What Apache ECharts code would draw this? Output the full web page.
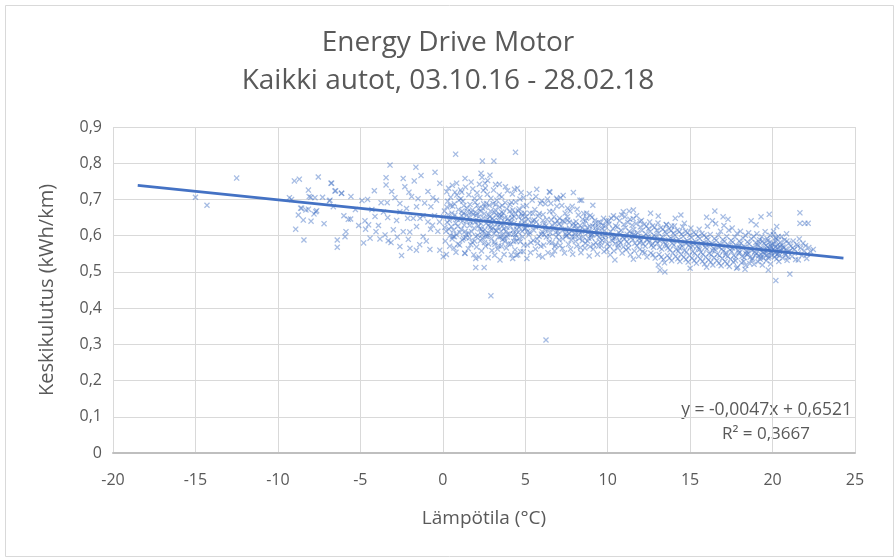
<!DOCTYPE html>
<html><head><meta charset="utf-8">
<script src="https://cdn.jsdelivr.net/npm/echarts@6/dist/echarts.min.js"></script>
<style>html,body{margin:0;padding:0;background:#fff}#c{width:896px;height:558px}</style>
</head><body><div id="c"></div>
<script>
const titleLines = ['Energy Drive Motor', 'Kaikki autot, 03.10.16 - 28.02.18'];
const xName = 'Lämpötila (°C)';
const yName = 'Keskikulutus (kWh/km)';
const xTicks = [-20, 25, 5];
const yTicks = [0, 0.9, 0.1];
const trendText = ['y = -0,0047x + 0,6521', 'R² = 0,3667'];
const trendLine = [[-18.5, 0.739], [24.3, 0.538]];

const coldPoints = [[-15.0,0.706],[-14.3,0.684],[-12.5,0.759],[-9.0,0.751],[-8.7,0.756],[-7.55,0.762],[-6.74,0.745],[-8.15,0.726],[-9.17,0.700],[-8.0,0.706],[-7.29,0.706],[-6.54,0.723],[-6.13,0.717],[-6.88,0.696],[-8.62,0.676],[-8.3,0.671],[-7.65,0.669],[-7.81,0.660],[-8.76,0.657],[-8.46,0.643],[-7.99,0.640],[-8.92,0.618],[-8.42,0.588],[-6.4,0.588],[-6.4,0.568],[-5.93,0.597],[-5.73,0.645],[-6.64,0.680],[-8.56,0.676],[-8.15,0.673],[-7.7,0.666],[-8.1,0.708],[-7.75,0.705],[-6.84,0.698],[-6.15,0.717],[-6.5,0.724],[-6.78,0.745],[-5.57,0.708],[-5.87,0.611],[-5.59,0.646],[-9.3,0.705],[-7.2,0.633],[-5.3,0.672],[-6.0,0.655],[-5.1,0.628]];

const freezePoints = [[-4.9,0.697],[-4.56,0.700],[-4.15,0.724],[-3.44,0.760],[-3.44,0.740],[-3.2,0.795],[-1.63,0.789],[-1.32,0.766],[-0.47,0.775],[-3.74,0.691],[-3.37,0.691],[-2.6,0.689],[-2.05,0.720],[-1.89,0.708],[-1.73,0.751],[-1.59,0.680],[-2.6,0.666],[-2.13,0.648],[-1.79,0.648],[-1.38,0.648],[-3.34,0.650],[-4.11,0.653],[-4.72,0.641],[-4.68,0.618],[-4.05,0.611],[-4.41,0.593],[-3.81,0.591],[-3.31,0.586],[-3.14,0.581],[-2.76,0.596],[-2.6,0.570],[-1.99,0.565],[-2.09,0.590],[-3.0,0.616],[-2.4,0.611],[-1.59,0.625],[-1.19,0.598],[-0.74,0.618],[-0.62,0.629],[-0.78,0.562],[-0.18,0.560],[-0.72,0.680],[-0.38,0.698],[-0.18,0.745],[-4.3,0.672],[-3.9,0.628],[-3.6,0.665],[-2.9,0.705],[-2.3,0.735],[-2.8,0.642],[-2.2,0.675],[-1.5,0.702],[-1.1,0.690],[-0.9,0.722],[-0.5,0.655],[-0.3,0.612],[-1.0,0.585],[-1.6,0.560],[-2.5,0.545],[-4.8,0.580],[-3.5,0.602],[-1.2,0.655],[-0.6,0.705],[-0.2,0.638],[-4.5,0.630],[-2.0,0.610],[-1.4,0.575],[-0.9,0.638],[-3.1,0.722],[-2.4,0.758]];

const coolPoints = [[0.78,0.825],[4.41,0.830],[2.4,0.806],[3.1,0.806],[2.32,0.772],[2.86,0.767],[1.35,0.758],[3.43,0.742],[0.84,0.745],[0.24,0.721],[0.74,0.720],[1.15,0.720],[4.52,0.731],[2.0,0.537],[2.0,0.512],[2.51,0.512],[0.03,0.542],[1.35,0.551],[3.47,0.533],[4.24,0.537],[4.88,0.556],[2.92,0.434],
[0.1,0.668],[0.2,0.612],[0.3,0.695],[0.4,0.642],[0.15,0.585],[0.35,0.731],[0.45,0.601],[0.05,0.652],[0.25,0.679],[0.42,0.571],[0.12,0.623],[0.33,0.658],[0.48,0.706],[0.22,0.548],[0.38,0.618],
[0.55,0.662],[0.62,0.598],[0.7,0.688],[0.78,0.634],[0.85,0.712],[0.92,0.577],[0.58,0.739],[0.66,0.615],[0.74,0.657],[0.82,0.603],[0.95,0.672],[0.52,0.625],[0.88,0.645],[0.68,0.566],[0.98,0.698],[0.6,0.681],[0.8,0.554],
[1.05,0.645],[1.1,0.702],[1.18,0.588],[1.25,0.661],[1.3,0.629],[1.38,0.734],[1.42,0.604],[1.48,0.676],[1.02,0.574],[1.12,0.618],[1.22,0.695],[1.33,0.552],[1.45,0.641],[1.08,0.726],[1.28,0.683],[1.4,0.595],[1.15,0.655],[1.35,0.612],
[1.52,0.667],[1.58,0.713],[1.62,0.594],[1.68,0.638],[1.72,0.748],[1.78,0.582],[1.85,0.659],[1.9,0.621],[1.96,0.692],[1.55,0.564],[1.65,0.686],[1.75,0.611],[1.82,0.729],[1.88,0.547],[1.98,0.638],[1.6,0.652],[1.7,0.575],[1.92,0.703],[1.8,0.671],
[2.02,0.656],[2.08,0.718],[2.12,0.601],[2.18,0.674],[2.22,0.742],[2.28,0.586],[2.32,0.633],[2.38,0.761],[2.42,0.612],[2.48,0.688],[2.05,0.569],[2.15,0.627],[2.25,0.705],[2.35,0.558],[2.45,0.649],[2.1,0.684],[2.2,0.541],[2.3,0.667],[2.4,0.593],[2.46,0.725],[2.14,0.639],[2.34,0.618],
[2.52,0.661],[2.58,0.731],[2.62,0.598],[2.68,0.645],[2.72,0.752],[2.78,0.577],[2.82,0.684],[2.88,0.623],[2.92,0.703],[2.98,0.559],[2.55,0.616],[2.65,0.689],[2.75,0.539],[2.85,0.652],[2.95,0.635],[2.6,0.571],[2.7,0.714],[2.8,0.606],[2.9,0.668],[2.56,0.745],[2.76,0.629],[2.96,0.592],
[3.02,0.648],[3.08,0.726],[3.12,0.582],[3.18,0.671],[3.22,0.614],[3.28,0.698],[3.32,0.563],[3.38,0.641],[3.42,0.712],[3.48,0.597],[3.05,0.689],[3.15,0.546],[3.25,0.657],[3.35,0.624],[3.45,0.679],[3.1,0.605],[3.2,0.741],[3.3,0.633],[3.4,0.572],[3.46,0.651],[3.14,0.664],
[3.52,0.633],[3.58,0.707],[3.62,0.589],[3.68,0.662],[3.72,0.548],[3.78,0.691],[3.82,0.612],[3.88,0.674],[3.92,0.724],[3.98,0.578],[3.55,0.654],[3.65,0.601],[3.75,0.638],[3.85,0.566],[3.95,0.647],[3.6,0.683],[3.7,0.619],[3.8,0.735],[3.9,0.596],[3.56,0.571],
[4.02,0.641],[4.08,0.686],[4.12,0.577],[4.18,0.659],[4.22,0.715],[4.28,0.604],[4.32,0.634],[4.38,0.561],[4.42,0.693],[4.48,0.618],[4.05,0.605],[4.15,0.547],[4.25,0.671],[4.35,0.728],[4.45,0.585],[4.1,0.626],[4.2,0.649],[4.3,0.584],[4.4,0.662],[4.46,0.546],
[4.52,0.628],[4.58,0.668],[4.62,0.592],[4.68,0.701],[4.72,0.556],[4.78,0.643],[4.82,0.612],[4.88,0.681],[4.92,0.574],[4.98,0.639],[4.55,0.547],[4.65,0.623],[4.75,0.719],[4.85,0.597],[4.95,0.662],[4.6,0.651],[4.7,0.583],[4.8,0.632],[4.9,0.705]];

const mildPoints = [[6.26,0.312],[6.46,0.721],[7.92,0.719],[8.32,0.698],[6.95,0.700],[6.0,0.696],[7.57,0.676],[6.8,0.570],[8.93,0.570],[6.5,0.720],[6.9,0.703],[8.72,0.662],[8.42,0.698],[5.7,0.728],[7.3,0.711],[9.1,0.684],
[5.02,0.621],[5.08,0.683],[5.12,0.574],[5.18,0.645],[5.22,0.602],[5.28,0.662],[5.32,0.553],[5.38,0.634],[5.42,0.698],[5.48,0.587],[5.05,0.652],[5.15,0.612],[5.25,0.716],[5.35,0.581],[5.45,0.641],[5.1,0.537],
[5.52,0.615],[5.58,0.672],[5.62,0.563],[5.68,0.638],[5.72,0.591],[5.78,0.654],[5.82,0.545],[5.88,0.627],[5.92,0.689],[5.98,0.604],[5.55,0.643],[5.65,0.708],[5.75,0.579],[5.85,0.661],[5.95,0.571],
[6.02,0.611],[6.08,0.658],[6.12,0.574],[6.18,0.632],[6.22,0.688],[6.28,0.596],[6.32,0.645],[6.38,0.553],[6.42,0.619],[6.48,0.667],[6.05,0.541],[6.15,0.603],[6.25,0.627],[6.35,0.701],[6.45,0.582],
[6.52,0.608],[6.58,0.643],[6.62,0.581],[6.68,0.667],[6.72,0.621],[6.78,0.558],[6.82,0.634],[6.88,0.596],[6.92,0.681],[6.98,0.612],[6.55,0.689],[6.65,0.547],[6.75,0.652],[6.85,0.575],[6.95,0.641],
[7.02,0.604],[7.08,0.648],[7.12,0.573],[7.18,0.627],[7.22,0.683],[7.28,0.591],[7.32,0.616],[7.38,0.552],[7.42,0.662],[7.48,0.598],[7.05,0.632],[7.15,0.705],[7.25,0.564],[7.35,0.639],[7.45,0.618],
[7.52,0.601],[7.58,0.643],[7.62,0.576],[7.68,0.621],[7.72,0.668],[7.78,0.588],[7.82,0.612],[7.88,0.549],[7.92,0.634],[7.98,0.597],[7.55,0.652],[7.65,0.606],[7.75,0.563],[7.85,0.681],[7.95,0.625],
[8.02,0.606],[8.08,0.639],[8.12,0.571],[8.18,0.618],[8.22,0.657],[8.28,0.592],[8.32,0.628],[8.38,0.553],[8.42,0.611],[8.48,0.645],[8.05,0.584],[8.15,0.673],[8.25,0.602],[8.35,0.567],[8.45,0.621],
[8.52,0.597],[8.58,0.632],[8.62,0.566],[8.68,0.614],[8.72,0.648],[8.78,0.585],[8.82,0.608],[8.88,0.544],[8.92,0.626],[8.98,0.601],[8.55,0.661],[8.65,0.579],[8.75,0.622],[8.85,0.593],[8.95,0.656],
[9.02,0.594],[9.08,0.627],[9.12,0.563],[9.18,0.608],[9.22,0.642],[9.28,0.581],[9.32,0.612],[9.38,0.549],[9.42,0.622],[9.48,0.596],[9.05,0.651],[9.15,0.575],[9.25,0.634],[9.35,0.602],[9.45,0.571],
[9.52,0.607],[9.58,0.636],[9.62,0.572],[9.68,0.598],[9.72,0.628],[9.78,0.556],[9.82,0.614],[9.88,0.589],[9.92,0.641],[9.98,0.577],[9.55,0.583],[9.65,0.619],[9.75,0.648],[9.85,0.601],[9.95,0.562]];

const corePoints = [[0.27,0.637],[0.64,0.649],[0.91,0.626],[1.17,0.668],[1.44,0.656],[1.63,0.628],[1.86,0.641],[2.07,0.662],[2.24,0.619],[2.41,0.676],[2.63,0.634],[2.79,0.657],[2.94,0.618],[3.11,0.642],[3.27,0.613],[3.44,0.658],[3.61,0.627],[3.77,0.649],[3.93,0.604],[4.14,0.637],[4.33,0.652],[4.57,0.609],[4.76,0.661],[4.94,0.618],[0.46,0.683],[0.71,0.597],[1.03,0.609],[1.27,0.592],[1.57,0.607],[1.74,0.664],[2.01,0.598],[2.19,0.652],[2.37,0.602],[2.57,0.679],[2.71,0.598],[2.87,0.641],[3.04,0.621],[3.21,0.686],[3.37,0.596],[3.57,0.665],[3.73,0.592],[3.89,0.623],[4.07,0.668],[4.27,0.615],[4.43,0.603],[4.63,0.674],[4.84,0.655],[5.06,0.628],[5.27,0.609],[5.46,0.661],[5.63,0.624],[5.84,0.598],[6.07,0.642],[6.24,0.615],[6.47,0.598],[6.63,0.629],[6.84,0.609],[7.06,0.588],[7.27,0.641],[7.44,0.604],[7.67,0.637],[7.84,0.598],[8.06,0.628],[8.27,0.612],[8.46,0.586],[8.66,0.641],[8.86,0.612],[9.06,0.603],[9.27,0.623],[9.46,0.637],[9.66,0.587],[9.86,0.627],[1.93,0.585],[2.53,0.581],[3.16,0.576],[3.76,0.584],[4.36,0.594],[0.57,0.591],[1.21,0.641],[2.66,0.604],[3.53,0.612],[4.16,0.692],
[10.31,0.592],[10.71,0.586],[11.13,0.598],[11.57,0.603],[11.94,0.581],[12.36,0.589],[12.73,0.578],[13.16,0.586],[13.57,0.572],[13.96,0.589],[14.37,0.566],[14.76,0.578],[15.17,0.571],[15.57,0.562],[15.96,0.577],[16.37,0.559],[16.76,0.568],[17.17,0.553],[17.57,0.566],[17.96,0.571],[18.37,0.551],[18.76,0.559],[19.17,0.583],[19.43,0.538],[19.67,0.592],[19.87,0.573],[20.17,0.594],[20.37,0.551],[20.63,0.569],[20.87,0.585],[21.22,0.566],[21.52,0.571]];

const warmPoints = [[10.95,0.666],[11.56,0.671],[13.07,0.654],[11.96,0.639],[13.17,0.505],[13.47,0.500],[13.07,0.519],[15.0,0.510],[10.44,0.533],[11.56,0.535],[14.44,0.657],[13.57,0.630],[13.88,0.627],[14.65,0.634],[11.3,0.668],[12.6,0.662],[14.1,0.648],
[10.02,0.603],[10.08,0.632],[10.12,0.571],[10.18,0.611],[10.22,0.648],[10.28,0.586],[10.32,0.619],[10.38,0.558],[10.42,0.594],[10.48,0.627],[10.05,0.641],[10.15,0.547],[10.25,0.601],[10.35,0.655],[10.45,0.578],
[10.52,0.598],[10.58,0.624],[10.62,0.566],[10.68,0.609],[10.72,0.641],[10.78,0.581],[10.82,0.615],[10.88,0.552],[10.92,0.597],[10.98,0.631],[10.55,0.649],[10.65,0.574],[10.75,0.603],[10.85,0.657],[10.95,0.569],
[11.02,0.591],[11.08,0.622],[11.12,0.561],[11.18,0.604],[11.22,0.637],[11.28,0.578],[11.32,0.612],[11.38,0.547],[11.42,0.595],[11.48,0.629],[11.05,0.652],[11.15,0.583],[11.25,0.566],[11.35,0.645],[11.45,0.606],
[11.52,0.589],[11.58,0.617],[11.62,0.558],[11.68,0.601],[11.72,0.633],[11.78,0.572],[11.82,0.608],[11.88,0.543],[11.92,0.592],[11.98,0.624],[11.55,0.647],[11.65,0.579],[11.75,0.655],[11.85,0.597],[11.95,0.562],
[12.02,0.586],[12.08,0.614],[12.12,0.556],[12.18,0.598],[12.22,0.631],[12.28,0.571],[12.32,0.605],[12.38,0.541],[12.42,0.589],[12.48,0.619],[12.05,0.642],[12.15,0.577],[12.25,0.553],[12.35,0.626],[12.45,0.598],
[12.52,0.583],[12.58,0.611],[12.62,0.552],[12.68,0.594],[12.72,0.627],[12.78,0.568],[12.82,0.601],[12.88,0.538],[12.92,0.586],[12.98,0.615],[12.55,0.638],[12.65,0.573],[12.75,0.547],[12.85,0.623],[12.95,0.596],
[13.02,0.579],[13.08,0.607],[13.12,0.548],[13.18,0.591],[13.22,0.622],[13.28,0.563],[13.32,0.597],[13.38,0.534],[13.42,0.582],[13.48,0.611],[13.05,0.635],[13.15,0.568],[13.25,0.541],[13.35,0.618],[13.45,0.525],
[13.52,0.577],[13.58,0.604],[13.62,0.545],[13.68,0.589],[13.72,0.618],[13.78,0.561],[13.82,0.593],[13.88,0.531],[13.92,0.579],[13.98,0.607],[13.55,0.631],[13.65,0.566],[13.75,0.538],[13.85,0.614],[13.95,0.552],
[14.02,0.574],[14.08,0.601],[14.12,0.543],[14.18,0.586],[14.22,0.615],[14.28,0.558],[14.32,0.589],[14.38,0.529],[14.42,0.576],[14.48,0.604],[14.05,0.627],[14.15,0.562],[14.25,0.536],[14.35,0.611],[14.45,0.548],
[14.52,0.571],[14.58,0.598],[14.62,0.541],[14.68,0.583],[14.72,0.612],[14.78,0.555],[14.82,0.586],[14.88,0.527],[14.92,0.573],[14.98,0.601],[14.55,0.624],[14.65,0.559],[14.75,0.534],[14.85,0.608],[14.95,0.545]];

const summerPoints = [[16.5,0.668],[17.0,0.652],[17.3,0.645],[16.0,0.651],[19.8,0.659],[17.82,0.510],[18.33,0.507],[16.0,0.513],[19.74,0.505],[19.0,0.630],[20.25,0.625],[18.7,0.641],[19.3,0.652],
[15.02,0.568],[15.08,0.595],[15.12,0.538],[15.18,0.581],[15.22,0.609],[15.28,0.552],[15.32,0.583],[15.38,0.524],[15.42,0.571],[15.48,0.598],[15.05,0.621],[15.15,0.556],[15.25,0.531],[15.35,0.604],[15.45,0.543],
[15.52,0.566],[15.58,0.592],[15.62,0.536],[15.68,0.578],[15.72,0.606],[15.78,0.549],[15.82,0.581],[15.88,0.522],[15.92,0.568],[15.98,0.595],[15.55,0.618],[15.65,0.554],[15.75,0.529],[15.85,0.601],[15.95,0.541],
[16.02,0.563],[16.08,0.589],[16.12,0.533],[16.18,0.576],[16.22,0.603],[16.28,0.547],[16.32,0.578],[16.38,0.519],[16.42,0.565],[16.48,0.592],[16.05,0.626],[16.15,0.551],[16.25,0.527],[16.35,0.641],[16.45,0.539],
[16.52,0.561],[16.58,0.587],[16.62,0.531],[16.68,0.573],[16.72,0.601],[16.78,0.545],[16.82,0.576],[16.88,0.517],[16.92,0.563],[16.98,0.589],[16.55,0.633],[16.65,0.549],[16.75,0.524],[16.85,0.612],[16.95,0.537],
[17.02,0.558],[17.08,0.584],[17.12,0.529],[17.18,0.571],[17.22,0.598],[17.28,0.543],[17.32,0.574],[17.38,0.515],[17.42,0.561],[17.48,0.587],[17.05,0.628],[17.15,0.547],[17.25,0.522],[17.35,0.615],[17.45,0.535],
[17.52,0.556],[17.58,0.582],[17.62,0.527],[17.68,0.569],[17.72,0.596],[17.78,0.541],[17.82,0.572],[17.88,0.513],[17.92,0.559],[17.98,0.585],[17.55,0.621],[17.65,0.545],[17.75,0.531],[17.85,0.606],[17.95,0.552],
[18.02,0.554],[18.08,0.579],[18.12,0.525],[18.18,0.567],[18.22,0.593],[18.28,0.539],[18.32,0.569],[18.38,0.518],[18.42,0.557],[18.48,0.583],[18.05,0.612],[18.15,0.543],[18.25,0.529],[18.35,0.601],[18.45,0.548],
[18.52,0.552],[18.58,0.577],[18.62,0.523],[18.68,0.564],[18.72,0.591],[18.78,0.537],[18.82,0.567],[18.88,0.521],[18.92,0.555],[18.98,0.581],[18.55,0.608],[18.65,0.541],[18.75,0.533],[18.85,0.598],[18.95,0.546],
[19.02,0.551],[19.08,0.575],[19.12,0.528],[19.18,0.562],[19.22,0.589],[19.28,0.541],[19.32,0.566],[19.38,0.519],[19.42,0.554],[19.48,0.579],[19.05,0.605],[19.15,0.544],[19.25,0.535],[19.35,0.597],[19.45,0.561],[19.1,0.571],[19.3,0.548],[19.4,0.585],
[19.52,0.549],[19.58,0.573],[19.62,0.531],[19.68,0.561],[19.72,0.587],[19.78,0.543],[19.82,0.564],[19.88,0.522],[19.92,0.556],[19.98,0.577],[19.55,0.611],[19.65,0.546],[19.75,0.538],[19.85,0.601],[19.95,0.567],[19.6,0.557],[19.8,0.581],[19.9,0.553],[19.7,0.569],[19.96,0.545]];

const hotPoints = [[20.2,0.476],[21.05,0.494],[22.47,0.562],[21.56,0.533],[22.07,0.537],[21.66,0.663],[21.66,0.634],[21.96,0.634],[22.16,0.634],
[20.02,0.562],[20.08,0.578],[20.12,0.541],[20.18,0.569],[20.22,0.591],[20.28,0.548],[20.32,0.566],[20.38,0.529],[20.42,0.557],[20.48,0.582],[20.05,0.603],[20.15,0.552],[20.25,0.536],[20.35,0.598],[20.45,0.571],[20.1,0.559],[20.3,0.574],[20.4,0.545],[20.06,0.612],[20.2,0.585],
[20.52,0.559],[20.58,0.574],[20.62,0.538],[20.68,0.566],[20.72,0.588],[20.78,0.546],[20.82,0.563],[20.88,0.532],[20.92,0.555],[20.98,0.579],[20.55,0.597],[20.75,0.551],[20.85,0.605],[20.95,0.541],
[21.02,0.557],[21.1,0.571],[21.18,0.543],[21.25,0.585],[21.32,0.562],[21.4,0.534],[21.48,0.576],[21.56,0.552],[21.62,0.591],[21.7,0.566],[21.78,0.545],[21.85,0.579],[21.92,0.558],[22.0,0.572],[22.1,0.549],[22.2,0.567],[22.3,0.556]];

const allPoints = [].concat(coldPoints, freezePoints, coolPoints, mildPoints, corePoints, warmPoints, summerPoints, hotPoints);

const FONT = '"Open Sans", sans-serif';
const TXT = '#595959';
const X_SYMBOL = 'path://M0,1.5L1.5,0L5,3.5L8.5,0L10,1.5L6.5,5L10,8.5L8.5,10L5,6.5L1.5,10L0,8.5L3.5,5Z';

const chart = echarts.init(document.getElementById('c'), null, {renderer: 'canvas'});
chart.setOption({
  animation: false,
  backgroundColor: '#ffffff',
  title: {
    text: titleLines.join('\n'),
    left: 'center', top: 19,
    textStyle: {fontFamily: FONT, fontSize: 28, fontWeight: 'normal', color: TXT, lineHeight: 38}
  },
  graphic: [{
    type: 'rect', left: 3, top: 3, shape: {width: 888, height: 551},
    style: {fill: 'none', stroke: '#d9d9d9', lineWidth: 1}, silent: true
  }, {
    type: 'text', right: 44, top: 401,
    style: {text: trendText[0], fontFamily: FONT, fontSize: 17.5, fill: TXT}
  }, {
    type: 'text', right: 86, top: 426,
    style: {text: trendText[1], fontFamily: FONT, fontSize: 17, fill: TXT}
  }],
  grid: {left: 113, right: 41, top: 127, bottom: 105},
  xAxis: {
    type: 'value', min: xTicks[0], max: xTicks[1], interval: xTicks[2],
    name: xName, nameLocation: 'middle', nameGap: 56,
    nameTextStyle: {fontFamily: FONT, fontSize: 19, color: TXT},
    axisLine: {show: true, onZero: false, lineStyle: {color: '#bfbfbf', width: 2}},
    axisTick: {show: false},
    axisLabel: {fontFamily: FONT, fontSize: 16, color: TXT, margin: 19},
    splitLine: {show: true, lineStyle: {color: '#d9d9d9', width: 1}}
  },
  yAxis: {
    type: 'value', min: yTicks[0], max: yTicks[1], interval: yTicks[2],
    name: yName, nameLocation: 'middle', nameGap: 56,
    nameTextStyle: {fontFamily: FONT, fontSize: 20, color: TXT},
    axisLine: {show: true, lineStyle: {color: '#d9d9d9', width: 1}},
    axisTick: {show: false},
    axisLabel: {fontFamily: FONT, fontSize: 16, color: TXT, margin: 11,
      formatter: v => (Math.round(v * 10) / 10).toString().replace('.', ',')},
    splitLine: {show: true, lineStyle: {color: '#d9d9d9', width: 1}}
  },
  series: [{
    type: 'scatter', data: allPoints, symbol: X_SYMBOL, symbolSize: 6,
    itemStyle: {color: 'rgba(68,114,196,0.6)'}, silent: true
  }, {
    type: 'line', data: trendLine, showSymbol: false, symbol: 'none',
    lineStyle: {color: '#4472C4', width: 2.8}, silent: true, z: 5
  }]
});
</script>
</body></html>
